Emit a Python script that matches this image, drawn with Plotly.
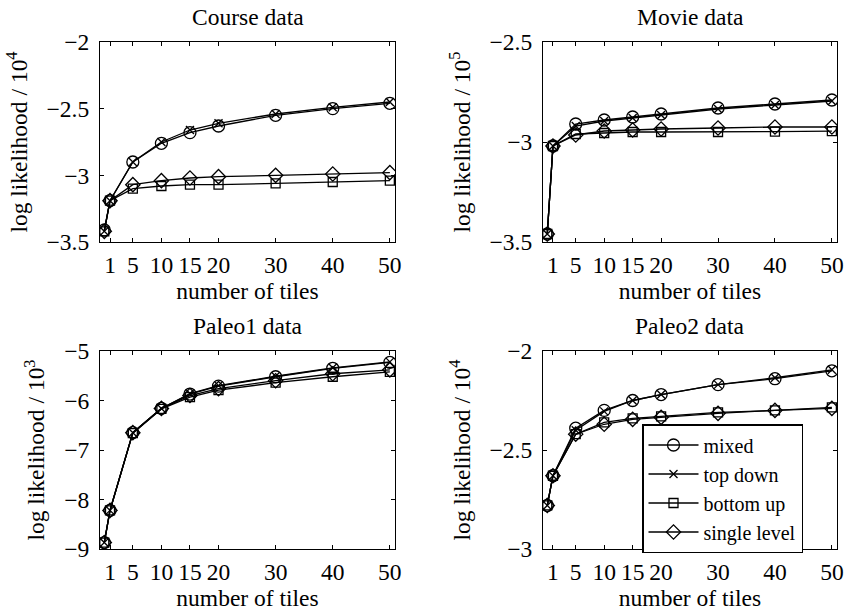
import plotly.graph_objects as go

# ---------------- data ----------------
x_tiles = [0, 1, 5, 10, 15, 20, 30, 40, 50]
x_tick_vals = [1, 5, 10, 15, 20, 30, 40, 50]
series_names = ["mixed", "top down", "bottom up", "single level"]

course_mixed = [-3.41, -3.19, -2.90, -2.76, -2.68, -2.63, -2.55, -2.50, -2.46]
course_top = [-3.42, -3.19, -2.90, -2.75, -2.66, -2.61, -2.54, -2.49, -2.45]
course_bottom = [-3.42, -3.19, -3.10, -3.08, -3.07, -3.07, -3.06, -3.05, -3.04]
course_single = [-3.42, -3.19, -3.07, -3.04, -3.02, -3.01, -3.00, -2.99, -2.98]

movie_mixed = [-3.46, -3.02, -2.91, -2.89, -2.875, -2.86, -2.83, -2.81, -2.79]
movie_top = [-3.46, -3.02, -2.92, -2.895, -2.88, -2.865, -2.835, -2.815, -2.795]
movie_bottom = [-3.46, -3.02, -2.96, -2.955, -2.95, -2.95, -2.95, -2.948, -2.946]
movie_single = [-3.46, -3.02, -2.965, -2.945, -2.94, -2.935, -2.93, -2.925, -2.925]

paleo1_mixed = [-8.87, -8.22, -6.65, -6.16, -5.87, -5.71, -5.52, -5.35, -5.23]
paleo1_top = [-8.87, -8.22, -6.65, -6.16, -5.86, -5.70, -5.51, -5.34, -5.22]
paleo1_bottom = [-8.87, -8.22, -6.66, -6.17, -5.93, -5.79, -5.64, -5.52, -5.42]
paleo1_single = [-8.87, -8.22, -6.65, -6.16, -5.90, -5.76, -5.60, -5.46, -5.38]

paleo2_mixed = [-2.78, -2.63, -2.39, -2.30, -2.25, -2.22, -2.17, -2.14, -2.10]
paleo2_top = [-2.78, -2.63, -2.40, -2.305, -2.25, -2.22, -2.17, -2.135, -2.095]
paleo2_bottom = [-2.78, -2.63, -2.42, -2.36, -2.34, -2.33, -2.31, -2.30, -2.285]
paleo2_single = [-2.78, -2.63, -2.42, -2.37, -2.345, -2.335, -2.315, -2.30, -2.29]

panel_titles = ["Course data", "Movie data", "Paleo1 data", "Paleo2 data"]
panel_exponents = [4, 5, 3, 4]
panel_yranges = [[-3.5, -2], [-3.5, -2.5], [-9, -5], [-3, -2]]
panel_yticks = [[-3.5, -3, -2.5, -2], [-3.5, -3, -2.5], [-9, -8, -7, -6, -5], [-3, -2.5, -2]]
panel_ytext = [["−3.5", "−3", "−2.5", "−2"], ["−3.5", "−3", "−2.5"],
               ["−9", "−8", "−7", "−6", "−5"], ["−3", "−2.5", "−2"]]
panel_series = [
    [course_mixed, course_top, course_bottom, course_single],
    [movie_mixed, movie_top, movie_bottom, movie_single],
    [paleo1_mixed, paleo1_top, paleo1_bottom, paleo1_single],
    [paleo2_mixed, paleo2_top, paleo2_bottom, paleo2_single],
]

# ---------------- layout ----------------
W, H = 847, 614
FONT = "Liberation Serif, Times New Roman, serif"
FS = 23.5
LEG_FS = 20

# pixel boxes of the plot areas: (left, right, top, bottom)
boxes = [(100, 395, 42, 242), (543, 837, 42, 242),
         (100, 395, 351, 549), (543, 837, 351, 549)]

symbols = ["circle-open", "x-thin-open", "square-open", "diamond-open"]
sizes = [12, 8, 9, 11]

fig = go.Figure()
layout = dict(
    width=W, height=H,
    margin=dict(l=0, r=0, t=0, b=0, autoexpand=False),
    paper_bgcolor="white", plot_bgcolor="white",
    font=dict(family=FONT, size=FS, color="black"),
    showlegend=True,
    legend=dict(
        x=642 / W, y=1 - 424 / H, xanchor="left", yanchor="top",
        bgcolor="white", bordercolor="black", borderwidth=1.5,
        font=dict(family=FONT, size=LEG_FS, color="black"),
        tracegroupgap=0, itemwidth=50,
    ),
    annotations=[],
)

for i in range(4):
    l, r, t, b = boxes[i]
    xa = "xaxis" if i == 0 else f"xaxis{i+1}"
    ya = "yaxis" if i == 0 else f"yaxis{i+1}"
    xref = "x" if i == 0 else f"x{i+1}"
    yref = "y" if i == 0 else f"y{i+1}"
    common = dict(
        showline=True, linecolor="black", linewidth=1.3, mirror="ticks",
        ticks="inside", ticklen=4, tickwidth=1, tickcolor="black",
        showgrid=False, zeroline=False, automargin=False,
        tickfont=dict(family=FONT, size=FS, color="black"),
    )
    layout[xa] = dict(
        common, domain=[l / W, r / W], anchor=yref,
        range=[-0.75, 50.9], tickmode="array", tickvals=x_tick_vals,
        ticktext=[str(v) for v in x_tick_vals], ticklabelstandoff=2,
        title=dict(text="number of tiles", font=dict(family=FONT, size=FS), standoff=4),
    )
    layout[ya] = dict(
        common, domain=[1 - b / H, 1 - t / H], anchor=xref,
        range=panel_yranges[i], tickmode="array", tickvals=panel_yticks[i],
        ticktext=panel_ytext[i], ticklabelstandoff=5,
        title=dict(text=f"log likelihood / 10<sup>{panel_exponents[i]}</sup>",
                   font=dict(family=FONT, size=FS), standoff=12),
    )
    layout["annotations"].append(dict(
        text=panel_titles[i], xref="paper", yref="paper",
        x=(l + r) / 2 / W, y=1 - (t - 10) / H, xanchor="center", yanchor="bottom",
        showarrow=False, font=dict(family=FONT, size=FS, color="black"),
    ))
    for k in range(4):
        fig.add_trace(go.Scatter(
            x=x_tiles, y=panel_series[i][k], mode="lines+markers",
            name=series_names[k], xaxis=xref, yaxis=yref,
            line=dict(color="black", width=1.3),
            marker=dict(symbol=symbols[k], size=sizes[k], color="black",
                        line=dict(color="black", width=1.3)),
            showlegend=(i == 3), legendrank=k + 1,
        ))

fig.update_layout(**layout)
fig.write_html("out.html", config={"displayModeBar": False},
               post_script="document.body.style.margin='0';document.body.style.overflow='hidden';")
